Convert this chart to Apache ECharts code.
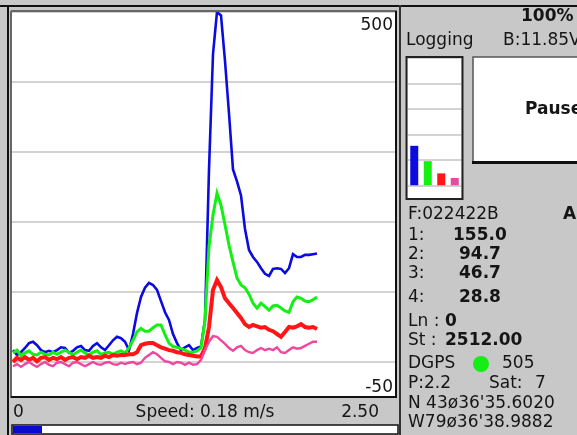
<!DOCTYPE html>
<html><head><meta charset="utf-8">
<script src="https://cdn.jsdelivr.net/npm/echarts@6/dist/echarts.min.js"></script>
<style>html,body{margin:0;padding:0;background:#c8c8c8;overflow:hidden}#c{width:577px;height:435px}</style>
</head><body><div id="c"></div>
<script>
// channel 1..4 traces (sample index 0..76)
const blue = [17,10,14,20,27,29,24,17,14,16,14,17,21,20,13,16,21,23,17,16,23,27,21,17,24,31,36,34,29,17,40,70,93,106,113,110,103,87,71,60,40,27,17,21,24,17,20,22,60,275,440,500,495,430,355,275,258,238,190,160,150,143,134,126,123,133,134,133,127,134,154,150,150,153,153,154,155];
const green = [13,17,9,13,16,11,10,14,11,10,14,11,14,17,14,10,14,17,13,10,14,16,11,13,14,11,14,16,13,20,31,43,48,44,44,49,53,53,39,27,22,21,19,17,14,14,16,20,60,165,210,241,224,196,167,143,120,110,106,97,84,77,84,79,74,80,81,77,73,71,86,93,91,87,86,89,93];
const red = [0,6,3,7,3,6,1,6,7,3,6,4,7,3,6,7,4,7,6,9,6,7,6,9,7,10,9,10,10,11,11,14,24,26,27,27,24,21,19,17,16,14,13,11,10,9,8,8,20,50,103,117,107,91,84,77,70,63,54,50,53,51,49,50,46,44,40,36,43,50,49,51,54,50,49,50,47];
const pink = [-6,-3,-7,-3,0,-4,-7,-3,0,-4,-6,-1,0,-3,-6,-1,0,-3,-6,-3,0,-3,-4,-1,0,-3,-4,-1,-3,-1,0,-3,-1,6,10,14,11,6,1,0,-3,0,-1,-4,-1,-4,-3,3,17,29,37,36,31,26,20,16,21,23,17,14,13,17,20,17,19,17,21,14,13,17,21,19,20,23,26,29,29].slice(0,77);
const channelNames = ['1','2','3','4'];
const currentValues = [155.0, 94.7, 46.7, 28.8];
const yTickLabels = ['500', '-50'];
const speedLabels = ['0', 'Speed: 0.18 m/s', '2.50'];
const colors = ['#0b0be0', '#14ef14', '#ff1515', '#f0469e'];

const F = '"DejaVu Sans"';
const chart = echarts.init(document.getElementById('c'), null, {renderer: 'canvas'});
const pairs = arr => arr.map((v, i) => [i, v]);
const gridCol = '#c4c4c4';
const splitCols = ['rgba(0,0,0,0)', gridCol];

function txt(x, y, text, opt) {
  opt = opt || {};
  return {type: 'text', x: x, y: y, z: 100, silent: true,
    style: {text: text, fill: opt.fill || '#151515', font: (opt.bold ? 'bold ' : '') + (opt.size || 17) + 'px ' + F,
      align: opt.align || 'left', verticalAlign: 'middle'}};
}
function ln(x1, y1, x2, y2, c, w) {
  return {type: 'line', z: 100, silent: true, shape: {x1: x1, y1: y1, x2: x2, y2: y2}, style: {stroke: c, lineWidth: w}};
}

const widths = [2.6, 3, 4, 2.4];
const series = [blue, green, red, pink].map((d, k) => ({
  type: 'line', name: channelNames[k], xAxisIndex: 0, yAxisIndex: 0, data: pairs(d),
  showSymbol: false, symbol: 'none', animation: false, z: 3 + k,
  lineStyle: {color: colors[k], width: widths[k], join: 'miter'}
}));
series.push({
  type: 'bar', xAxisIndex: 1, yAxisIndex: 1, barWidth: 8, animation: false,
  data: currentValues.map((v, k) => ({value: v, itemStyle: {color: colors[k]}}))
});

const graphics = [
  // outer frame
  ln(0, 6, 577, 6, '#111', 2),
  ln(8, 5, 8, 435, '#111', 2),
  ln(400, 5, 400, 435, '#333', 2),
  // plot bevel
  ln(11, 11, 397, 11, '#666', 2),
  ln(11, 11, 11, 398, '#666', 2),
  ln(396, 11, 396, 398, '#111', 2),
  ln(11, 397, 397, 397, '#111', 2),
  // axis labels
  txt(393, 26, yTickLabels[0], {align: 'right'}),
  txt(393, 388, yTickLabels[1], {align: 'right'}),
  // speed row
  txt(13, 413, speedLabels[0]),
  txt(205, 413, speedLabels[1], {align: 'center'}),
  txt(379, 413, speedLabels[2], {align: 'right'}),
  {type: 'rect', z: 100, silent: true, shape: {x: 12, y: 425, width: 386, height: 9}, style: {fill: '#fff', stroke: '#111', lineWidth: 1.5}},
  {type: 'rect', z: 101, silent: true, shape: {x: 13, y: 426, width: 29, height: 7}, style: {fill: '#0a0ad0'}},
  // small bar box
  {type: 'rect', z: 100, silent: true, shape: {x: 406.5, y: 57, width: 56, height: 142}, style: {fill: 'none', stroke: '#222', lineWidth: 2}},
  // pause button
  {type: 'rect', z: 99, silent: true, shape: {x: 473, y: 57, width: 110, height: 105}, style: {fill: '#fff', stroke: '#555', lineWidth: 1.5}},
  ln(472, 162.5, 577, 162.5, '#111', 3),
  txt(525, 110, 'Pause', {bold: true}),
  // header
  txt(521, 17, '100%', {bold: true}),
  txt(406, 41, 'Logging'),
  txt(503, 41, 'B:11.85V'),
  // readouts
  txt(408, 215, 'F:022422B'),
  txt(563, 215, 'A', {bold: true}),
  txt(408, 236, channelNames[0] + ':'), txt(453, 236, currentValues[0].toFixed(1), {bold: true}),
  txt(408, 255, channelNames[1] + ':'), txt(459, 255, currentValues[1].toFixed(1), {bold: true}),
  txt(408, 274, channelNames[2] + ':'), txt(459, 274, currentValues[2].toFixed(1), {bold: true}),
  txt(408, 298, channelNames[3] + ':'), txt(459, 298, currentValues[3].toFixed(1), {bold: true}),
  txt(408, 322, 'Ln :'), txt(445, 322, '0', {bold: true}),
  txt(408, 341, 'St :'), txt(445, 341, '2512.00', {bold: true}),
  txt(408, 364, 'DGPS'),
  {type: 'circle', z: 100, silent: true, shape: {cx: 481, cy: 364, r: 8}, style: {fill: '#14ee14'}},
  txt(502, 364, '505'),
  txt(408, 384, 'P:2.2'), txt(489, 384, 'Sat:'), txt(535, 384, '7'),
  txt(408, 404, 'N 43ø36\'35.6020'),
  txt(408, 423, 'W79ø36\'38.9882')
];

chart.setOption({
  backgroundColor: '#c8c8c8',
  animation: false,
  grid: [
    {left: 12, top: 12, width: 384, height: 385, show: true, backgroundColor: '#fff', borderWidth: 0},
    {left: 407.5, top: 58, width: 54, height: 140, show: true, backgroundColor: '#fff', borderWidth: 0}
  ],
  xAxis: [
    {type: 'value', gridIndex: 0, min: -0.25, max: 95.75, show: false, splitLine: {show: false}},
    {type: 'category', gridIndex: 1, data: channelNames, show: false}
  ],
  yAxis: [
    {type: 'value', gridIndex: 0, min: -50, max: 500, interval: 50, axisLine: {show: false}, axisTick: {show: false}, axisLabel: {show: false},
      splitLine: {show: true, lineStyle: {color: splitCols, width: 1.5}}},
    {type: 'value', gridIndex: 1, min: -50, max: 500, interval: 50, axisLine: {show: false}, axisTick: {show: false}, axisLabel: {show: false},
      splitLine: {show: true, lineStyle: {color: splitCols, width: 1.5}}}
  ],
  series: series,
  graphic: graphics
});
</script></body></html>
